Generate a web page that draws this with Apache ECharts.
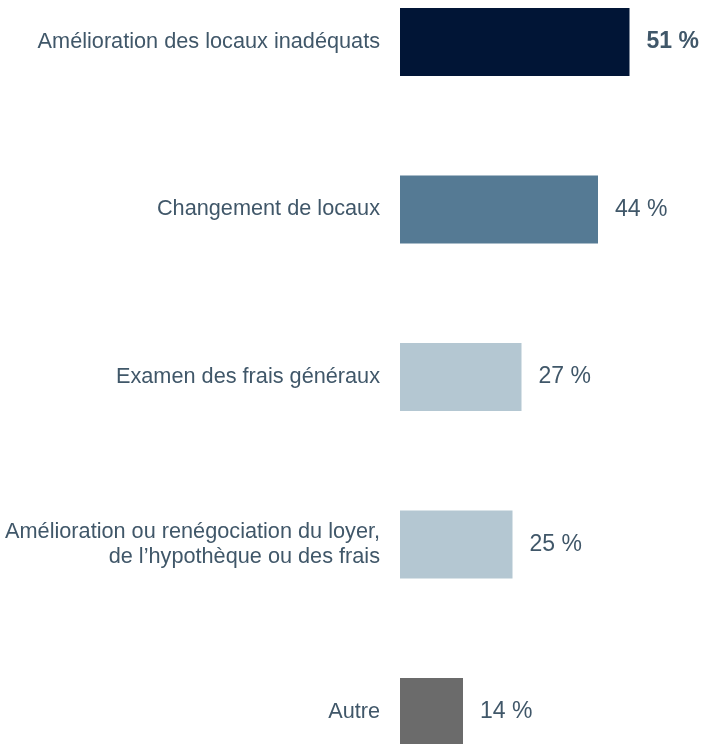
<!DOCTYPE html>
<html>
<head>
<meta charset="utf-8">
<script src="https://cdn.jsdelivr.net/npm/echarts@6/dist/echarts.min.js"></script>
<style>
  html, body { margin: 0; padding: 0; background: #fff; }
  #chart { width: 703px; height: 744px; }
</style>
</head>
<body>
<div id="chart"></div>
<script>
// categories top to bottom
const categories = [
  'Amélioration des locaux inadéquats',
  'Changement de locaux',
  'Examen des frais généraux',
  'Amélioration ou renégociation du loyer,\nde l’hypothèque ou des frais',
  'Autre'
]
const values = [51, 44, 27, 25, 14]
const barColors = ['#011536', '#557a94', '#b4c7d2', '#b4c7d2', '#6b6b6b']

const textColor = '#405769'

const chart = echarts.init(document.getElementById('chart'))
chart.setOption({
  animation: false,
  grid: {
    left: 400,
    width: 270,
    top: 42,
    height: 670
  },
  xAxis: {
    type: 'value',
    min: 0,
    max: 60,
    show: false
  },
  yAxis: {
    type: 'category',
    data: categories,
    inverse: true,
    boundaryGap: false, // bars sit on the ticks, first at top, last at bottom
    axisLine: { show: false },
    axisTick: { show: false },
    splitLine: { show: false },
    axisLabel: {
      margin: 20,
      color: textColor,
      fontFamily: 'Liberation Sans, Arial, sans-serif',
      fontSize: 21.7,
      lineHeight: 25,
      align: 'right'
    }
  },
  series: [{
    type: 'bar',
    barWidth: 68,
    data: values.map((v, i) => ({
      value: v,
      itemStyle: { color: barColors[i] },
      label: { fontWeight: i === 0 ? 'bold' : 'normal' }
    })),
    label: {
      show: true,
      position: 'right',
      distance: 17,
      color: textColor,
      fontFamily: 'Liberation Sans, Arial, sans-serif',
      fontSize: 23,
      formatter: p => p.value + ' %'
    }
  }]
})
</script>
</body>
</html>
